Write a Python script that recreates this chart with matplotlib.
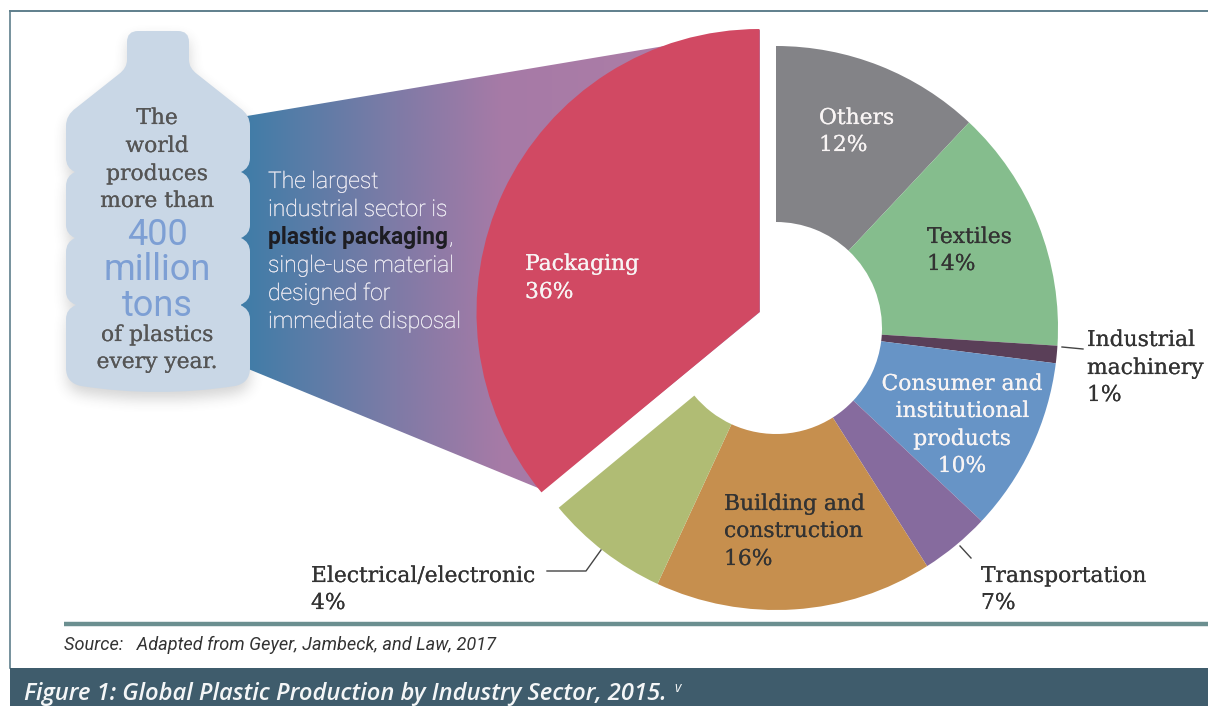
import numpy as np
import matplotlib
matplotlib.use("Agg")
import matplotlib.pyplot as plt
import matplotlib.patheffects as pe
from matplotlib.path import Path
from matplotlib.patches import PathPatch, Rectangle
from matplotlib.colors import LinearSegmentedColormap

# ---- data -------------------------------------------------------------
packaging_share = [36]
sector_names = ["Others", "Textiles", "Industrial machinery",
                "Consumer and institutional products", "Transportation",
                "Building and construction", "Electrical/electronic"]
# widths as drawn in the picture (the printed labels differ for two sectors)
sector_drawn = [12, 14, 1, 10, 4, 15.9, 7.1]
sector_printed = ["12%", "14%", "1%", "10%", "7%", "16%", "4%"]
sector_colors = ["#838387", "#85bd8d", "#5a3f58", "#6794c6", "#866b9e", "#c68f4e", "#b0bc74"]
packaging_color = "#d14963"

W, H = 1208, 706
def Y(py):
    return H - py

fig = plt.figure(figsize=(W / 100, H / 100), dpi=100, facecolor="white")
ax = fig.add_axes([0, 0, 1, 1])

# ---- donut and packaging wedge -----------------------------------------
R = 282
ax.pie([v / 100 for v in sector_drawn], colors=sector_colors, normalize=False,
       startangle=90, counterclock=False, center=(776, Y(328)), radius=R,
       wedgeprops=dict(width=R - 106, linewidth=0), frame=False)
pk, _ = ax.pie([v / 100 for v in packaging_share], colors=[packaging_color], normalize=False,
       startangle=90, counterclock=True, center=(759.5, Y(312)), radius=R + 1,
       wedgeprops=dict(linewidth=0), frame=False)
for w in pk:
    w.set_zorder(3)
ax.axis("off")

# ---- funnel gradient ---------------------------------------------------
cmap = LinearSegmentedColormap.from_list(
    "funnel", [(0, "#3f7da8"), (0.3, "#7f7ba6"), (0.5, "#a67aa6"), (1, "#b07fa8")])
grad = np.linspace(0, 1, 256).reshape(1, -1)
im = ax.imshow(grad, cmap=cmap, extent=(241, 760, Y(490), Y(30)), aspect="auto", zorder=1)
clip = PathPatch(Path([(241, Y(117)), (760, Y(30)), (760, Y(312)), (543, Y(490)), (241, Y(366)), (241, Y(117))]),
                 transform=ax.transData, fc="none", ec="none")
ax.add_patch(clip)
im.set_clip_path(clip)

# ---- bottle ------------------------------------------------------------
M, L, Q = Path.MOVETO, Path.LINETO, Path.CURVE3
right = [(L, 178, 31), (Q, 189, 31), (Q, 189, 42), (L, 189, 60), (Q, 189, 68), (Q, 197, 74),
         (L, 240, 108), (Q, 250, 115), (Q, 250, 126), (L, 250, 158), (Q, 250, 168), (Q, 241, 172),
         (Q, 250, 176), (Q, 250, 186), (L, 250, 225), (Q, 250, 234), (Q, 241, 238),
         (Q, 250, 242), (Q, 250, 252), (L, 250, 292), (Q, 250, 301), (Q, 240, 305),
         (Q, 250, 309), (Q, 250, 319), (L, 250, 368), (Q, 250, 383), (Q, 235, 386),
         (Q, 158, 398), (Q, 81, 386)]
verts = [(138, Y(31))]
codes = [M]
for c, x, y in right:
    verts.append((x, Y(y)))
    codes.append(c)
verts.append((66, Y(383))); codes.append(Q)
verts.append((66, Y(368))); codes.append(Q)
left_seq = [(L, 319), (Q, 309), (Q, 305, 76), (Q, 301), (Q, 292), (L, 252), (Q, 242), (Q, 238, 75), (Q, 234),
            (Q, 225), (L, 186), (Q, 176), (Q, 172, 75), (Q, 168), (Q, 158), (L, 126)]
for it in left_seq:
    if len(it) == 2:
        verts.append((66, Y(it[1]))); codes.append(it[0])
    else:
        verts.append((it[2], Y(it[1]))); codes.append(it[0])
verts += [(66, Y(115)), (76, Y(108)), (119, Y(74)), (127, Y(68)), (127, Y(60)),
          (127, Y(42)), (127, Y(31)), (138, Y(31)), (138, Y(31))]
codes += [Q, Q, L, Q, Q, L, Q, Q, Path.CLOSEPOLY]
bottle = Path(verts, codes)

# soft drop shadow: a blurred mask of the bottle outline
gx, gy = np.meshgrid(np.arange(20, 300), np.arange(H - 440, H - 0))
poly = Path(bottle.to_polygons(closed_only=True)[0])
mask = poly.contains_points(np.c_[gx.ravel(), gy.ravel() + 8]).reshape(gx.shape).astype(float)
kernel = np.ones(13) / 13
for _ in range(3):
    mask = np.apply_along_axis(lambda r: np.convolve(r, kernel, mode="same"), 0, mask)
    mask = np.apply_along_axis(lambda r: np.convolve(r, kernel, mode="same"), 1, mask)
rgba = np.zeros(mask.shape + (4,))
rgba[..., :3] = 0.25
rgba[..., 3] = mask * 0.22
ax.imshow(rgba, extent=(20, 300, H - 440, H), origin="lower", aspect="auto", zorder=0.5)
ax.add_patch(PathPatch(bottle, fc="#c9d7e6", ec="none", zorder=2))

ax.set_xlim(0, W)
ax.set_ylim(0, H)

# ---- frame and rules ---------------------------------------------------
ax.plot([10, W], [Y(11), Y(11)], color="#5f7f8c", lw=1.4, zorder=1)
ax.plot([10, 10], [Y(11), Y(668)], color="#5f7f8c", lw=1.2, zorder=1)
ax.plot([64, W], [Y(624), Y(624)], color="#6b8f90", lw=3.2, solid_capstyle="butt", zorder=1)
ax.add_patch(Rectangle((10, 0), W - 10, H - 668, fc="#3f5c6c", ec="none", zorder=1))

# ---- leaders -----------------------------------------------------------
for xs, ys in [([1062, 1083], [347, 349]), ([960, 971], [546, 558]), ([547, 586, 601], [571, 571, 550])]:
    ax.plot(xs, [Y(v) for v in ys], color="#444444", lw=1.0, zorder=4)

# ---- text --------------------------------------------------------------
SLAB = "DejaVu Serif"
def T(x, y, s, color="#333333", size=15.7, ha="left", family=SLAB, heft=0.12, **kw):
    t = ax.text(x, Y(y), s, color=color, fontsize=size, ha=ha, va="baseline", family=family, zorder=6, **kw)
    if heft:
        t.set_path_effects([pe.withStroke(linewidth=heft, foreground=color)])

white = "#f8f4f4"
T(525, 270, "Packaging", white)
T(525, 298, "36%", white)
T(819, 124, sector_names[0], white)
T(819, 151, sector_printed[0], white)
T(927, 243, sector_names[1])
T(927, 270, sector_printed[1])
T(1087, 346, "Industrial")
T(1087, 374, "machinery")
T(1087, 401, sector_printed[2])
for y, s in zip([390, 417, 445, 472], ["Consumer and", "institutional", "products", sector_printed[3]]):
    T(962, y, s, white, ha="center")
T(981, 582, sector_names[4])
T(981, 609, sector_printed[4])
for y, s in zip([510, 537, 565], ["Building and", "construction", sector_printed[5]]):
    T(724, y, s)
T(311, 582, sector_names[6])
T(311, 609, sector_printed[6])

for y, s in zip([124, 152, 180, 207], ["The", "world", "produces", "more than"]):
    T(157, y, s, "#555555", ha="center")
for y, s in zip([341, 368], ["of plastics", "every year."]):
    T(157, y, s, "#555555", ha="center")
for y, s in zip([245, 280, 316], ["400", "million", "tons"]):
    T(157, y, s, "#7d9fd4", size=26, ha="center", family="Roboto", heft=0)

side = [(188, "The largest"), (216, "industrial sector is"), (272, "single-use material"),
        (300, "designed for"), (328, "immediate disposal")]
for y, s in side:
    T(268, y, s, "#eceaf2", size=16.5, family="Roboto", weight="light", heft=0.2)
T(268, 244, "plastic packaging", "#1d1d22", size=16.4, family="Roboto", weight="bold", heft=0)
T(449, 244, ",", "#eceaf2", size=16.5, family="Roboto", weight="light", heft=0.2)

T(64, 650, "Source:   Adapted from Geyer, Jambeck, and Law, 2017", "#333333", size=13.1,
  family="Roboto", style="italic", heft=0)
T(24, 700, "Figure 1: Global Plastic Production by Industry Sector, 2015.", "#f4f6f7", size=17.15,
  family="Open Sans", style="italic", weight="semibold", heft=0)
T(674, 692, "v", "#f4f6f7", size=10, family="Open Sans", style="italic", heft=0)

fig.savefig("out.png", dpi=100, facecolor="white")
